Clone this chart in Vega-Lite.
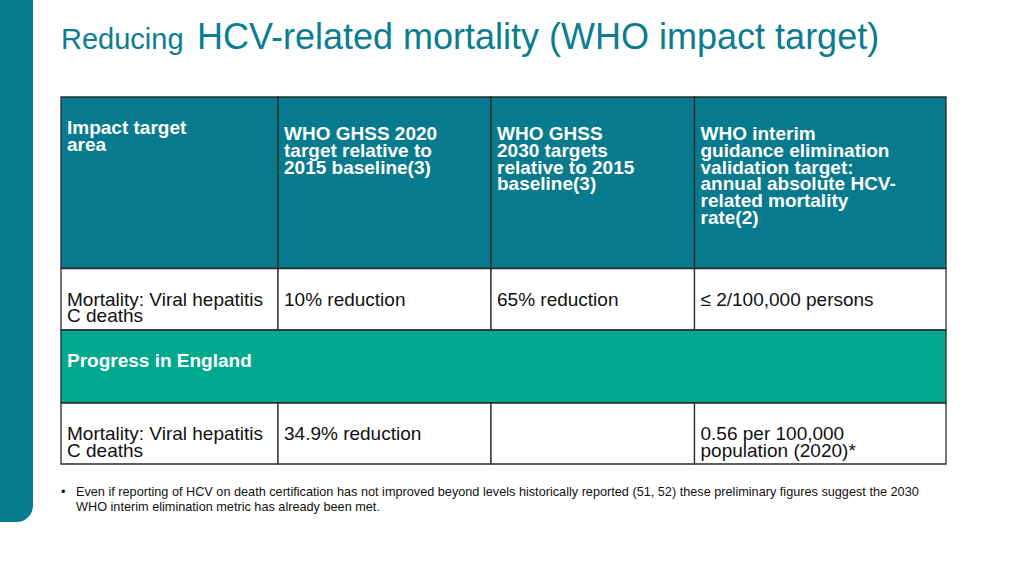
{
  "$schema": "https://vega.github.io/schema/vega-lite/v6.json",
  "autosize": {"type": "fit", "contains": "padding"},
  "width": 1024,
  "height": 576,
  "padding": 0,
  "background": "#ffffff",
  "config": {"view": {"stroke": null}, "text": {"font": "Liberation Sans"}},
  "datasets": {
    "deco": [{"x": -2, "x2": -1, "y": -2, "y2": 6}],
    "cells": [
      {"x": 0, "x2": 1, "y": 0, "y2": 1, "kind": "header"},
      {"x": 1, "x2": 2, "y": 0, "y2": 1, "kind": "header"},
      {"x": 2, "x2": 3, "y": 0, "y2": 1, "kind": "header"},
      {"x": 3, "x2": 4, "y": 0, "y2": 1, "kind": "header"},
      {"x": 0, "x2": 1, "y": 1, "y2": 2, "kind": "body"},
      {"x": 1, "x2": 2, "y": 1, "y2": 2, "kind": "body"},
      {"x": 2, "x2": 3, "y": 1, "y2": 2, "kind": "body"},
      {"x": 3, "x2": 4, "y": 1, "y2": 2, "kind": "body"},
      {"x": 0, "x2": 4, "y": 2, "y2": 3, "kind": "section"},
      {"x": 0, "x2": 1, "y": 3, "y2": 4, "kind": "body"},
      {"x": 1, "x2": 2, "y": 3, "y2": 4, "kind": "body"},
      {"x": 2, "x2": 3, "y": 3, "y2": 4, "kind": "body"},
      {"x": 3, "x2": 4, "y": 3, "y2": 4, "kind": "body"}
    ],
    "texts": [
      {"x": 0, "y": 0, "kind": "hdr1", "text": ["Impact target", "area"]},
      {"x": 1, "y": 0, "kind": "hdr", "text": ["WHO GHSS 2020", "target relative to", "2015 baseline(3)"]},
      {"x": 2, "y": 0, "kind": "hdr", "text": ["WHO GHSS", "2030 targets", "relative to 2015", "baseline(3)"]},
      {"x": 3, "y": 0, "kind": "hdr", "text": ["WHO interim", "guidance elimination", "validation target:", "annual absolute HCV-", "related mortality", "rate(2)"]},
      {"x": 0, "y": 1, "kind": "body", "text": ["Mortality: Viral hepatitis", "C deaths"]},
      {"x": 1, "y": 1, "kind": "body", "text": ["10% reduction"]},
      {"x": 2, "y": 1, "kind": "body", "text": ["65% reduction"]},
      {"x": 3, "y": 1, "kind": "body", "text": ["≤ 2/100,000 persons"]},
      {"x": 0, "y": 2, "kind": "section", "text": ["Progress in England"]},
      {"x": 0, "y": 3, "kind": "body", "text": ["Mortality: Viral hepatitis", "C deaths"]},
      {"x": 1, "y": 3, "kind": "body", "text": ["34.9% reduction"]},
      {"x": 3, "y": 3, "kind": "body", "text": ["0.56 per 100,000", "population (2020)*"]}
    ],
    "titles": [
      {"x": 0, "y": -1, "part": "small", "text": "Reducing"},
      {"x": 0, "y": -1, "part": "large", "text": "HCV-related mortality (WHO impact target)"}
    ],
    "notes": [
      {"x": 0, "y": 5, "part": "bullet", "text": ["•"]},
      {"x": 0, "y": 5, "part": "body", "text": ["Even if reporting of HCV on death certification has not improved beyond levels historically reported (51, 52) these preliminary figures suggest the 2030", "WHO interim elimination metric has already been met."]}
    ]
  },
  "encoding": {
    "x": {"field": "x", "type": "quantitative", "axis": null,
      "scale": {"domain": [-2, -1, 0, 1, 2, 3, 4, 5], "range": [0, 33, 61, 278, 491, 694.5, 946, 1024], "zero": false, "nice": false}},
    "y": {"field": "y", "type": "quantitative", "axis": null,
      "scale": {"domain": [-2, -1, 0, 1, 2, 3, 4, 5, 6, 7], "range": [0, 49, 97, 268.5, 330, 403, 464, 496, 522, 576], "zero": false, "nice": false}}
  },
  "layer": [
    {
      "data": {"name": "deco"},
      "mark": {"type": "rect", "color": "#067C8F", "cornerRadiusBottomRight": 30},
      "encoding": {"x2": {"field": "x2"}, "y2": {"field": "y2"}}
    },
    {
      "data": {"name": "cells"},
      "mark": {"type": "rect", "stroke": "#2b2b2b", "strokeWidth": 1.3},
      "encoding": {
        "x2": {"field": "x2"},
        "y2": {"field": "y2"},
        "fill": {"field": "kind", "type": "nominal", "legend": null,
          "scale": {"domain": ["header", "body", "section"], "range": ["#077A8D", "#ffffff", "#00A88E"]}}
      }
    },
    {
      "data": {"name": "titles"},
      "transform": [{"filter": "datum.part === 'small'"}],
      "mark": {"type": "text", "align": "left", "baseline": "alphabetic", "fontSize": 29, "color": "#0B7D8F"},
      "encoding": {"text": {"field": "text"}}
    },
    {
      "data": {"name": "titles"},
      "transform": [{"filter": "datum.part === 'large'"}],
      "mark": {"type": "text", "align": "left", "baseline": "alphabetic", "fontSize": 36, "dx": 136, "color": "#0B7D8F"},
      "encoding": {"text": {"field": "text"}}
    },
    {
      "data": {"name": "texts"},
      "transform": [{"filter": "datum.kind === 'hdr1' || datum.kind === 'section'"}],
      "mark": {"type": "text", "align": "left", "baseline": "alphabetic", "fontSize": 19, "fontWeight": "bold", "lineHeight": 17, "dx": 6, "dy": 36.5, "color": "#ffffff"},
      "encoding": {"text": {"field": "text"}}
    },
    {
      "data": {"name": "texts"},
      "transform": [{"filter": "datum.kind === 'hdr'"}],
      "mark": {"type": "text", "align": "left", "baseline": "alphabetic", "fontSize": 19, "fontWeight": "bold", "lineHeight": 16.8, "dx": 6, "dy": 43, "color": "#ffffff"},
      "encoding": {"text": {"field": "text"}}
    },
    {
      "data": {"name": "texts"},
      "transform": [{"filter": "datum.kind === 'body'"}],
      "mark": {"type": "text", "align": "left", "baseline": "alphabetic", "fontSize": 19, "lineHeight": 16.3, "dx": 6, "dy": 37.3, "color": "#111111"},
      "encoding": {"text": {"field": "text"}}
    },
    {
      "data": {"name": "notes"},
      "transform": [{"filter": "datum.part === 'bullet'"}],
      "mark": {"type": "text", "align": "left", "baseline": "alphabetic", "fontSize": 12.7, "dx": 0, "color": "#111111"},
      "encoding": {"text": {"field": "text"}}
    },
    {
      "data": {"name": "notes"},
      "transform": [{"filter": "datum.part === 'body'"}],
      "mark": {"type": "text", "align": "left", "baseline": "alphabetic", "fontSize": 12.7, "lineHeight": 14.7, "dx": 15, "color": "#111111"},
      "encoding": {"text": {"field": "text"}}
    }
  ]
}
